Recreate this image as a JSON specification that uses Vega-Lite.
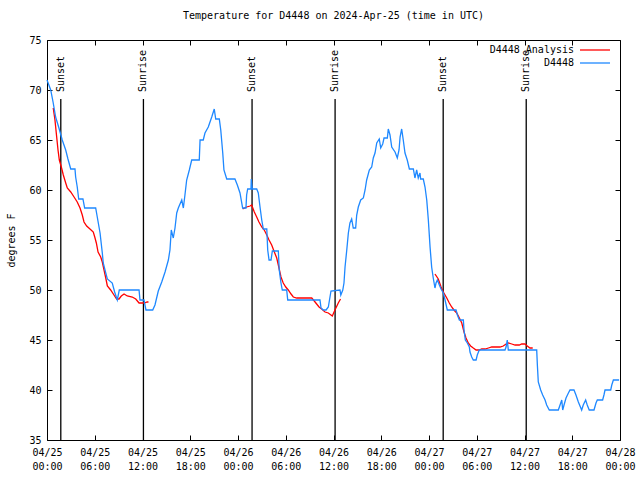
{
  "$schema": "https://vega.github.io/schema/vega-lite/v6.json",
  "width": 573,
  "height": 400,
  "autosize": {"type": "none"},
  "padding": {"left": 47, "top": 40, "right": 20, "bottom": 40},
  "background": "white",
  "title": {"text": "Temperature for D4448 on 2024-Apr-25 (time in UTC)", "font": "DejaVu Sans Mono", "fontSize": 10, "fontWeight": "normal", "color": "black", "anchor": "middle", "offset": 14},
  "config": {
    "view": {"stroke": "black", "strokeWidth": 1},
    "axis": {"labelFont": "DejaVu Sans Mono", "labelFontSize": 10, "labelColor": "black", "tickColor": "black", "domain": false, "grid": false, "tickSize": -5, "labelFlush": false, "titleFont": "DejaVu Sans Mono", "titleFontSize": 10, "titleFontWeight": "normal", "titleColor": "black"}
  },
  "datasets": {
    "obs": [
      {"t":"2024-04-25T00:00Z","temp":71.0},{"t":"2024-04-25T00:28Z","temp":70.0},{"t":"2024-04-25T00:47Z","temp":68.7},{"t":"2024-04-25T01:05Z","temp":67.3},{"t":"2024-04-25T01:30Z","temp":66.2},{"t":"2024-04-25T01:55Z","temp":65.0},{"t":"2024-04-25T02:21Z","temp":64.0},{"t":"2024-04-25T02:38Z","temp":63.1},{"t":"2024-04-25T02:59Z","temp":62.1},{"t":"2024-04-25T03:31Z","temp":62.1},{"t":"2024-04-25T03:36Z","temp":61.3},{"t":"2024-04-25T03:48Z","temp":60.3},{"t":"2024-04-25T03:59Z","temp":59.1},{"t":"2024-04-25T04:31Z","temp":59.1},{"t":"2024-04-25T04:44Z","temp":58.2},{"t":"2024-04-25T06:07Z","temp":58.2},{"t":"2024-04-25T06:19Z","temp":57.3},{"t":"2024-04-25T06:40Z","temp":55.7},{"t":"2024-04-25T06:57Z","temp":53.7},{"t":"2024-04-25T07:04Z","temp":52.7},{"t":"2024-04-25T07:23Z","temp":51.7},{"t":"2024-04-25T07:35Z","temp":51.1},{"t":"2024-04-25T08:12Z","temp":50.7},{"t":"2024-04-25T08:30Z","temp":49.8},{"t":"2024-04-25T08:50Z","temp":49.0},{"t":"2024-04-25T09:05Z","temp":50.0},{"t":"2024-04-25T11:34Z","temp":50.0},{"t":"2024-04-25T11:41Z","temp":49.0},{"t":"2024-04-25T12:11Z","temp":49.0},{"t":"2024-04-25T12:26Z","temp":48.0},{"t":"2024-04-25T13:17Z","temp":48.0},{"t":"2024-04-25T13:34Z","temp":48.5},{"t":"2024-04-25T13:59Z","temp":49.9},{"t":"2024-04-25T14:25Z","temp":50.8},{"t":"2024-04-25T14:50Z","temp":51.8},{"t":"2024-04-25T15:15Z","temp":53.0},{"t":"2024-04-25T15:27Z","temp":54.0},{"t":"2024-04-25T15:37Z","temp":56.0},{"t":"2024-04-25T15:52Z","temp":55.2},{"t":"2024-04-25T16:05Z","temp":56.2},{"t":"2024-04-25T16:18Z","temp":57.7},{"t":"2024-04-25T16:30Z","temp":58.2},{"t":"2024-04-25T16:56Z","temp":59.0},{"t":"2024-04-25T17:08Z","temp":58.2},{"t":"2024-04-25T17:20Z","temp":59.5},{"t":"2024-04-25T17:33Z","temp":61.0},{"t":"2024-04-25T17:53Z","temp":62.0},{"t":"2024-04-25T18:11Z","temp":63.0},{"t":"2024-04-25T19:08Z","temp":63.0},{"t":"2024-04-25T19:14Z","temp":65.0},{"t":"2024-04-25T19:38Z","temp":65.0},{"t":"2024-04-25T19:51Z","temp":65.7},{"t":"2024-04-25T20:16Z","temp":66.3},{"t":"2024-04-25T20:42Z","temp":67.3},{"t":"2024-04-25T21:01Z","temp":68.1},{"t":"2024-04-25T21:12Z","temp":67.1},{"t":"2024-04-25T21:39Z","temp":67.1},{"t":"2024-04-25T21:50Z","temp":66.0},{"t":"2024-04-25T22:05Z","temp":63.7},{"t":"2024-04-25T22:14Z","temp":62.0},{"t":"2024-04-25T22:35Z","temp":61.1},{"t":"2024-04-25T23:37Z","temp":61.1},{"t":"2024-04-25T23:55Z","temp":60.5},
      {"t":"2024-04-26T00:15Z","temp":59.7},{"t":"2024-04-26T00:35Z","temp":58.2},{"t":"2024-04-26T01:00Z","temp":58.2},{"t":"2024-04-26T01:05Z","temp":59.5},{"t":"2024-04-26T01:13Z","temp":60.1},{"t":"2024-04-26T01:38Z","temp":60.1},{"t":"2024-04-26T01:40Z","temp":61.1},{"t":"2024-04-26T01:48Z","temp":60.1},{"t":"2024-04-26T02:21Z","temp":60.1},{"t":"2024-04-26T02:33Z","temp":59.7},{"t":"2024-04-26T02:46Z","temp":58.3},{"t":"2024-04-26T02:59Z","temp":57.0},{"t":"2024-04-26T03:11Z","temp":56.1},{"t":"2024-04-26T03:37Z","temp":56.1},{"t":"2024-04-26T03:44Z","temp":54.0},{"t":"2024-04-26T03:54Z","temp":53.0},{"t":"2024-04-26T04:09Z","temp":53.0},{"t":"2024-04-26T04:19Z","temp":53.9},{"t":"2024-04-26T05:04Z","temp":53.9},{"t":"2024-04-26T05:11Z","temp":52.0},{"t":"2024-04-26T05:24Z","temp":50.7},{"t":"2024-04-26T05:34Z","temp":50.0},{"t":"2024-04-26T06:07Z","temp":50.0},{"t":"2024-04-26T06:15Z","temp":49.0},{"t":"2024-04-26T10:18Z","temp":49.0},{"t":"2024-04-26T10:26Z","temp":48.2},{"t":"2024-04-26T10:43Z","temp":48.0},{"t":"2024-04-26T11:04Z","temp":48.0},{"t":"2024-04-26T11:21Z","temp":48.3},{"t":"2024-04-26T11:41Z","temp":49.9},{"t":"2024-04-26T12:49Z","temp":50.0},{"t":"2024-04-26T12:55Z","temp":49.5},{"t":"2024-04-26T13:10Z","temp":50.0},{"t":"2024-04-26T13:19Z","temp":50.7},{"t":"2024-04-26T13:27Z","temp":52.3},{"t":"2024-04-26T13:40Z","temp":54.0},{"t":"2024-04-26T13:52Z","temp":55.7},{"t":"2024-04-26T14:04Z","temp":56.7},{"t":"2024-04-26T14:17Z","temp":57.1},{"t":"2024-04-26T14:29Z","temp":56.2},{"t":"2024-04-26T14:47Z","temp":56.2},{"t":"2024-04-26T14:55Z","temp":57.5},{"t":"2024-04-26T15:07Z","temp":58.3},{"t":"2024-04-26T15:25Z","temp":59.0},{"t":"2024-04-26T15:45Z","temp":59.2},{"t":"2024-04-26T15:58Z","temp":60.0},{"t":"2024-04-26T16:10Z","temp":61.0},{"t":"2024-04-26T16:30Z","temp":62.0},{"t":"2024-04-26T16:48Z","temp":62.3},{"t":"2024-04-26T17:00Z","temp":63.2},{"t":"2024-04-26T17:13Z","temp":63.7},{"t":"2024-04-26T17:26Z","temp":64.7},{"t":"2024-04-26T17:45Z","temp":65.1},{"t":"2024-04-26T17:56Z","temp":64.2},{"t":"2024-04-26T18:11Z","temp":64.6},{"t":"2024-04-26T18:21Z","temp":65.2},{"t":"2024-04-26T18:46Z","temp":65.2},{"t":"2024-04-26T18:53Z","temp":66.1},{"t":"2024-04-26T19:06Z","temp":65.5},{"t":"2024-04-26T19:19Z","temp":64.3},{"t":"2024-04-26T19:44Z","temp":63.8},{"t":"2024-04-26T20:01Z","temp":63.2},{"t":"2024-04-26T20:14Z","temp":64.0},{"t":"2024-04-26T20:22Z","temp":65.3},{"t":"2024-04-26T20:34Z","temp":66.1},{"t":"2024-04-26T20:46Z","temp":65.0},{"t":"2024-04-26T20:59Z","temp":63.7},{"t":"2024-04-26T21:16Z","temp":63.0},{"t":"2024-04-26T21:32Z","temp":62.1},{"t":"2024-04-26T22:02Z","temp":62.1},{"t":"2024-04-26T22:14Z","temp":61.2},{"t":"2024-04-26T22:27Z","temp":62.0},{"t":"2024-04-26T22:39Z","temp":61.2},{"t":"2024-04-26T22:52Z","temp":61.7},{"t":"2024-04-26T22:57Z","temp":61.1},{"t":"2024-04-26T23:17Z","temp":61.1},{"t":"2024-04-26T23:30Z","temp":60.3},{"t":"2024-04-26T23:43Z","temp":59.0},{"t":"2024-04-26T23:55Z","temp":57.0},
      {"t":"2024-04-27T00:08Z","temp":54.3},{"t":"2024-04-27T00:20Z","temp":52.3},{"t":"2024-04-27T00:32Z","temp":51.2},{"t":"2024-04-27T00:45Z","temp":50.2},{"t":"2024-04-27T00:53Z","temp":50.7},{"t":"2024-04-27T01:03Z","temp":51.0},{"t":"2024-04-27T01:18Z","temp":50.5},{"t":"2024-04-27T01:31Z","temp":50.1},{"t":"2024-04-27T01:48Z","temp":49.7},{"t":"2024-04-27T02:01Z","temp":49.0},{"t":"2024-04-27T02:18Z","temp":48.0},{"t":"2024-04-27T03:24Z","temp":48.0},{"t":"2024-04-27T03:34Z","temp":47.5},{"t":"2024-04-27T03:49Z","temp":47.0},{"t":"2024-04-27T04:19Z","temp":47.0},{"t":"2024-04-27T04:24Z","temp":46.0},{"t":"2024-04-27T04:34Z","temp":45.0},{"t":"2024-04-27T04:49Z","temp":44.7},{"t":"2024-04-27T05:04Z","temp":44.3},{"t":"2024-04-27T05:09Z","temp":43.8},{"t":"2024-04-27T05:22Z","temp":43.3},{"t":"2024-04-27T05:34Z","temp":43.0},{"t":"2024-04-27T05:55Z","temp":43.0},{"t":"2024-04-27T06:04Z","temp":43.5},{"t":"2024-04-27T06:19Z","temp":44.0},{"t":"2024-04-27T09:33Z","temp":44.0},{"t":"2024-04-27T09:41Z","temp":44.3},{"t":"2024-04-27T09:50Z","temp":45.0},{"t":"2024-04-27T09:58Z","temp":44.0},{"t":"2024-04-27T13:32Z","temp":44.0},{"t":"2024-04-27T13:37Z","temp":42.5},{"t":"2024-04-27T13:44Z","temp":40.8},{"t":"2024-04-27T14:02Z","temp":40.0},{"t":"2024-04-27T14:17Z","temp":39.5},{"t":"2024-04-27T14:35Z","temp":39.0},{"t":"2024-04-27T14:47Z","temp":38.5},{"t":"2024-04-27T15:07Z","temp":38.0},{"t":"2024-04-27T16:15Z","temp":38.0},{"t":"2024-04-27T16:28Z","temp":38.5},{"t":"2024-04-27T16:41Z","temp":39.0},{"t":"2024-04-27T16:48Z","temp":38.0},{"t":"2024-04-27T16:58Z","temp":38.5},{"t":"2024-04-27T17:13Z","temp":39.2},{"t":"2024-04-27T17:31Z","temp":39.7},{"t":"2024-04-27T17:43Z","temp":40.0},{"t":"2024-04-27T18:13Z","temp":40.0},{"t":"2024-04-27T18:28Z","temp":39.5},{"t":"2024-04-27T18:46Z","temp":38.8},{"t":"2024-04-27T19:11Z","temp":38.0},{"t":"2024-04-27T19:23Z","temp":38.5},{"t":"2024-04-27T19:41Z","temp":39.0},{"t":"2024-04-27T19:53Z","temp":38.5},{"t":"2024-04-27T20:08Z","temp":38.0},{"t":"2024-04-27T20:44Z","temp":38.0},{"t":"2024-04-27T20:59Z","temp":38.7},{"t":"2024-04-27T21:09Z","temp":39.0},{"t":"2024-04-27T21:49Z","temp":39.0},{"t":"2024-04-27T21:59Z","temp":39.5},{"t":"2024-04-27T22:07Z","temp":40.0},{"t":"2024-04-27T22:50Z","temp":40.0},{"t":"2024-04-27T22:58Z","temp":40.5},{"t":"2024-04-27T23:10Z","temp":41.0},{"t":"2024-04-27T23:53Z","temp":41.0}
    ],
    "ana": [
      {"t":"2024-04-25T00:47Z","temp":68.2,"run":1},{"t":"2024-04-25T01:00Z","temp":67.0,"run":1},{"t":"2024-04-25T01:13Z","temp":65.3,"run":1},{"t":"2024-04-25T01:23Z","temp":64.0,"run":1},{"t":"2024-04-25T01:33Z","temp":63.0,"run":1},{"t":"2024-04-25T01:48Z","temp":62.3,"run":1},{"t":"2024-04-25T02:03Z","temp":61.5,"run":1},{"t":"2024-04-25T02:21Z","temp":60.7,"run":1},{"t":"2024-04-25T02:33Z","temp":60.2,"run":1},{"t":"2024-04-25T02:59Z","temp":59.8,"run":1},{"t":"2024-04-25T03:24Z","temp":59.3,"run":1},{"t":"2024-04-25T03:48Z","temp":58.8,"run":1},{"t":"2024-04-25T04:09Z","temp":58.2,"run":1},{"t":"2024-04-25T04:26Z","temp":57.5,"run":1},{"t":"2024-04-25T04:39Z","temp":56.8,"run":1},{"t":"2024-04-25T04:59Z","temp":56.4,"run":1},{"t":"2024-04-25T05:24Z","temp":56.1,"run":1},{"t":"2024-04-25T05:49Z","temp":55.8,"run":1},{"t":"2024-04-25T06:00Z","temp":55.3,"run":1},{"t":"2024-04-25T06:12Z","temp":54.7,"run":1},{"t":"2024-04-25T06:25Z","temp":53.8,"run":1},{"t":"2024-04-25T06:45Z","temp":53.3,"run":1},{"t":"2024-04-25T06:57Z","temp":52.8,"run":1},{"t":"2024-04-25T07:10Z","temp":52.0,"run":1},{"t":"2024-04-25T07:23Z","temp":51.2,"run":1},{"t":"2024-04-25T07:35Z","temp":50.4,"run":1},{"t":"2024-04-25T08:00Z","temp":50.0,"run":1},{"t":"2024-04-25T08:25Z","temp":49.5,"run":1},{"t":"2024-04-25T08:45Z","temp":49.1,"run":1},{"t":"2024-04-25T09:03Z","temp":49.1,"run":1},{"t":"2024-04-25T09:20Z","temp":49.4,"run":1},{"t":"2024-04-25T09:41Z","temp":49.6,"run":1},{"t":"2024-04-25T10:05Z","temp":49.4,"run":1},{"t":"2024-04-25T10:43Z","temp":49.3,"run":1},{"t":"2024-04-25T11:09Z","temp":49.1,"run":1},{"t":"2024-04-25T11:34Z","temp":48.7,"run":1},{"t":"2024-04-25T12:11Z","temp":48.7,"run":1},{"t":"2024-04-25T12:36Z","temp":48.8,"run":1},{"t":"2024-04-25T12:45Z","temp":48.8,"run":1},
      {"t":"2024-04-26T00:35Z","temp":58.1,"run":2},{"t":"2024-04-26T01:05Z","temp":58.3,"run":2},{"t":"2024-04-26T01:31Z","temp":58.4,"run":2},{"t":"2024-04-26T01:43Z","temp":58.5,"run":2},{"t":"2024-04-26T02:03Z","temp":57.8,"run":2},{"t":"2024-04-26T02:21Z","temp":57.3,"run":2},{"t":"2024-04-26T02:38Z","temp":56.8,"run":2},{"t":"2024-04-26T02:59Z","temp":56.3,"run":2},{"t":"2024-04-26T03:18Z","temp":56.0,"run":2},{"t":"2024-04-26T03:37Z","temp":55.5,"run":2},{"t":"2024-04-26T03:54Z","temp":55.0,"run":2},{"t":"2024-04-26T04:14Z","temp":54.5,"run":2},{"t":"2024-04-26T04:34Z","temp":53.8,"run":2},{"t":"2024-04-26T04:52Z","temp":53.2,"run":2},{"t":"2024-04-26T05:04Z","temp":52.5,"run":2},{"t":"2024-04-26T05:24Z","temp":51.3,"run":2},{"t":"2024-04-26T05:41Z","temp":50.7,"run":2},{"t":"2024-04-26T06:00Z","temp":50.3,"run":2},{"t":"2024-04-26T06:19Z","temp":50.0,"run":2},{"t":"2024-04-26T06:40Z","temp":49.6,"run":2},{"t":"2024-04-26T06:57Z","temp":49.3,"run":2},{"t":"2024-04-26T07:23Z","temp":49.2,"run":2},{"t":"2024-04-26T08:25Z","temp":49.2,"run":2},{"t":"2024-04-26T09:16Z","temp":49.2,"run":2},{"t":"2024-04-26T09:35Z","temp":48.9,"run":2},{"t":"2024-04-26T09:53Z","temp":48.6,"run":2},{"t":"2024-04-26T10:11Z","temp":48.3,"run":2},{"t":"2024-04-26T10:31Z","temp":48.1,"run":2},{"t":"2024-04-26T10:56Z","temp":47.8,"run":2},{"t":"2024-04-26T11:21Z","temp":47.7,"run":2},{"t":"2024-04-26T11:51Z","temp":47.4,"run":2},{"t":"2024-04-26T12:11Z","temp":48.0,"run":2},{"t":"2024-04-26T12:36Z","temp":48.7,"run":2},{"t":"2024-04-26T12:53Z","temp":49.1,"run":2},
      {"t":"2024-04-27T00:45Z","temp":51.6,"run":3},{"t":"2024-04-27T01:10Z","temp":51.1,"run":3},{"t":"2024-04-27T01:31Z","temp":50.3,"run":3},{"t":"2024-04-27T01:48Z","temp":49.8,"run":3},{"t":"2024-04-27T02:14Z","temp":49.2,"run":3},{"t":"2024-04-27T02:33Z","temp":48.7,"run":3},{"t":"2024-04-27T02:51Z","temp":48.3,"run":3},{"t":"2024-04-27T03:08Z","temp":48.0,"run":3},{"t":"2024-04-27T03:29Z","temp":47.7,"run":3},{"t":"2024-04-27T03:49Z","temp":47.2,"run":3},{"t":"2024-04-27T04:07Z","temp":46.7,"run":3},{"t":"2024-04-27T04:24Z","temp":45.8,"run":3},{"t":"2024-04-27T04:39Z","temp":45.2,"run":3},{"t":"2024-04-27T04:56Z","temp":44.7,"run":3},{"t":"2024-04-27T05:14Z","temp":44.4,"run":3},{"t":"2024-04-27T05:34Z","temp":44.2,"run":3},{"t":"2024-04-27T05:55Z","temp":44.0,"run":3},{"t":"2024-04-27T06:19Z","temp":44.0,"run":3},{"t":"2024-04-27T06:37Z","temp":44.1,"run":3},{"t":"2024-04-27T07:02Z","temp":44.1,"run":3},{"t":"2024-04-27T07:28Z","temp":44.2,"run":3},{"t":"2024-04-27T07:53Z","temp":44.3,"run":3},{"t":"2024-04-27T08:25Z","temp":44.3,"run":3},{"t":"2024-04-27T08:55Z","temp":44.3,"run":3},{"t":"2024-04-27T09:20Z","temp":44.4,"run":3},{"t":"2024-04-27T09:41Z","temp":44.6,"run":3},{"t":"2024-04-27T09:58Z","temp":44.7,"run":3},{"t":"2024-04-27T10:24Z","temp":44.6,"run":3},{"t":"2024-04-27T10:49Z","temp":44.5,"run":3},{"t":"2024-04-27T11:21Z","temp":44.5,"run":3},{"t":"2024-04-27T11:39Z","temp":44.6,"run":3},{"t":"2024-04-27T12:04Z","temp":44.6,"run":3},{"t":"2024-04-27T12:21Z","temp":44.4,"run":3},{"t":"2024-04-27T12:41Z","temp":44.2,"run":3},{"t":"2024-04-27T13:02Z","temp":44.2,"run":3}
    ],
    "sun": [
      {"t":"2024-04-25T01:44Z","event":"Sunset"},{"t":"2024-04-25T12:07Z","event":"Sunrise"},{"t":"2024-04-26T01:46Z","event":"Sunset"},{"t":"2024-04-26T12:12Z","event":"Sunrise"},{"t":"2024-04-27T01:47Z","event":"Sunset"},{"t":"2024-04-27T12:13Z","event":"Sunrise"}
    ]
  },
  "layer": [
    {
      "data": {"name": "sun"},
      "mark": {"type": "rule", "color": "black", "strokeWidth": 1.3},
      "encoding": {
        "x": {"field": "t", "type": "temporal", "scale": {"type": "utc", "domain": ["2024-04-25T00:00Z", "2024-04-28T00:00Z"]}, "axis": {"orient": "bottom", "title": null, "tickCount": 12, "labelExpr": "[utcFormat(datum.value, '%m/%d'), utcFormat(datum.value, '%H:%M')]", "labelPadding": 12, "labelLineHeight": 14, "labelBaseline": "top"}},
        "y": {"datum": 69.1, "type": "quantitative", "scale": {"domain": [35, 75], "nice": false, "zero": false}, "axis": {"orient": "left", "values": [35, 40, 45, 50, 55, 60, 65, 70, 75], "title": "degrees F", "labelPadding": 11, "titlePadding": 12}},
        "y2": {"datum": 35}
      }
    },
    {
      "data": {"name": "sun"},
      "mark": {"type": "text", "angle": 270, "align": "left", "baseline": "middle", "font": "DejaVu Sans Mono", "fontSize": 10, "color": "black"},
      "encoding": {
        "x": {"field": "t", "type": "temporal", "axis": null},
        "y": {"datum": 69.8, "type": "quantitative", "axis": null},
        "text": {"field": "event"}
      }
    },
    {
      "data": {"name": "ana"},
      "mark": {"type": "line", "strokeWidth": 1.3},
      "encoding": {
        "x": {"field": "t", "type": "temporal", "axis": {"orient": "top", "title": null, "labels": false, "tickCount": 12}},
        "y": {"field": "temp", "type": "quantitative", "axis": {"orient": "right", "title": null, "labels": false, "values": [35, 40, 45, 50, 55, 60, 65, 70, 75]}},
        "detail": {"field": "run"},
        "color": {"datum": "D4448 Analysis", "scale": {"domain": ["D4448 Analysis", "D4448"], "range": ["#ff0000", "#1e88ff"]}, "legend": {"title": null, "orient": "none", "legendX": 541, "legendY": 3, "padding": 0, "symbolType": "M-2.5,0H2.5", "symbolSize": 144, "symbolStrokeWidth": 1.3, "labelAlign": "right", "labelOffset": -28, "labelFont": "DejaVu Sans Mono", "labelFontSize": 10, "labelColor": "black", "rowPadding": 1}}
      }
    },
    {
      "data": {"name": "obs"},
      "mark": {"type": "line", "strokeWidth": 1.3},
      "encoding": {
        "x": {"field": "t", "type": "temporal", "axis": null},
        "y": {"field": "temp", "type": "quantitative", "axis": null},
        "color": {"datum": "D4448"}
      }
    }
  ],
  "resolve": {"axis": {"x": "independent", "y": "independent"}}
}
